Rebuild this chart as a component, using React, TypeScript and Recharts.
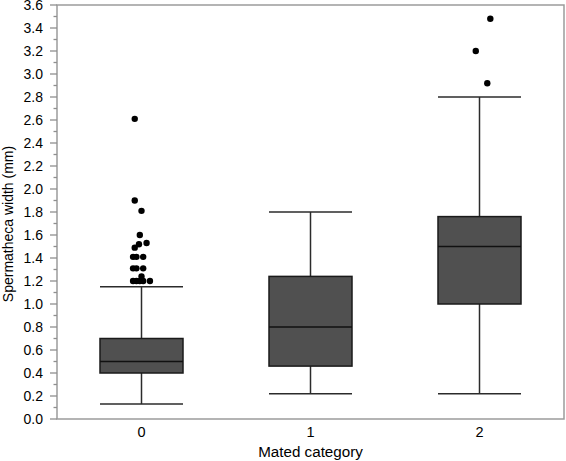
import { ComposedChart, Bar, Scatter, XAxis, YAxis, ReferenceArea } from "recharts";

const categories = ["0", "1", "2"];
const whiskerLow = [0.13, 0.22, 0.22];
const quartile1 = [0.4, 0.46, 1.0];
const medians = [0.5, 0.8, 1.5];
const quartile3 = [0.7, 1.24, 1.76];
const whiskerHigh = [1.15, 1.8, 2.8];

// outliers: position on the category scale (with its jitter) and value
const outlierPos = [
  -0.04, -0.04, 0.0, -0.01, -0.04, -0.015, 0.03, -0.05, -0.03, 0.01, -0.05, -0.03, 0.01,
  -0.05, -0.03, -0.01, 0.01, 0.0, 0.05, 2.064, 1.978, 2.046,
];
const outlierVal = [
  2.61, 1.9, 1.81, 1.6, 1.49, 1.52, 1.53, 1.41, 1.41, 1.41, 1.31, 1.31, 1.31,
  1.2, 1.2, 1.2, 1.2, 1.24, 1.2, 3.48, 3.2, 2.92,
];

const yTicks = [
  0.0, 0.1, 0.2, 0.3, 0.4, 0.5, 0.6, 0.7, 0.8, 0.9, 1.0, 1.1, 1.2, 1.3, 1.4, 1.5, 1.6, 1.7, 1.8,
  1.9, 2.0, 2.1, 2.2, 2.3, 2.4, 2.5, 2.6, 2.7, 2.8, 2.9, 3.0, 3.1, 3.2, 3.3, 3.4, 3.5, 3.6,
];

const boxes = categories.map((cat, i) => ({
  cat,
  low: whiskerLow[i],
  q1: quartile1[i],
  med: medians[i],
  q3: quartile3[i],
  high: whiskerHigh[i],
}));

const outliers = outlierPos.map((x, i) => ({ x, y: outlierVal[i] }));

const FONT = "'Liberation Sans', Arial, Helvetica, sans-serif";
const TICK_SIZE = 7;
const TICK_MARGIN = 7;

function BoxShape(props: any) {
  const { x, y, width, height, payload } = props;
  const top = Math.min(y, y + height);
  const bot = Math.max(y, y + height);
  const { low, q1, med, q3, high } = payload;
  const py = (v: number) => bot - ((v - low) / (high - low)) * (bot - top);
  const cx = x + width / 2;
  const line = { stroke: "#2b2b2b", strokeWidth: 1.5 };
  return (
    <g>
      <line x1={cx} x2={cx} y1={py(high)} y2={py(q3)} {...line} />
      <line x1={cx} x2={cx} y1={py(q1)} y2={py(low)} {...line} />
      <line x1={x} x2={x + width} y1={py(high)} y2={py(high)} {...line} />
      <line x1={x} x2={x + width} y1={py(low)} y2={py(low)} {...line} />
      <rect x={x} y={py(q3)} width={width} height={py(q1) - py(q3)} fill="#505050" stroke="#1a1a1a" strokeWidth={1.5} />
      <line x1={x} x2={x + width} y1={py(med)} y2={py(med)} stroke="#111" strokeWidth={1.5} />
    </g>
  );
}

function YTick(props: any) {
  const { x, y, payload } = props;
  const v = Number(payload.value);
  const major = Math.round(v * 10) % 2 === 0;
  return (
    <g>
      <line
        x1={x + TICK_MARGIN + (major ? 0 : 3.5)}
        x2={x + TICK_MARGIN + TICK_SIZE}
        y1={y}
        y2={y}
        stroke="#8f8f8f"
        strokeWidth={1.3}
      />
      {major && (
        <text x={x} y={y} dy={5} textAnchor="end" fontSize={14} fill="#000" fontFamily={FONT}>
          {v.toFixed(1)}
        </text>
      )}
    </g>
  );
}

function YLabel(props: any) {
  const vb = props.viewBox || { x: 0, y: 5, width: 57, height: 414 };
  const cx = vb.x + 8;
  const cy = vb.y + vb.height / 2 + 12;
  return (
    <text
      x={cx}
      y={cy}
      transform={`rotate(-90 ${cx} ${cy})`}
      textAnchor="middle"
      dominantBaseline="central"
      fontSize={14}
      fill="#000"
      fontFamily={FONT}
    >
      Spermatheca width (mm)
    </text>
  );
}

export default function App() {
  return (
    <div style={{ position: "absolute", left: 0, top: 0 }}>
      <ComposedChart
        width={566}
        height={461}
        data={boxes}
        margin={{ top: 5, right: 2, bottom: 0, left: 0 }}
        style={{ fontFamily: FONT }}
      >
        <XAxis
          dataKey="cat"
          height={42}
          tickLine={false}
          axisLine={false}
          tick={{ fill: "#000", fontSize: 14.5, fontFamily: FONT }}
          label={{ value: "Mated category", position: "insideBottom", offset: 4, fill: "#000", fontSize: 15.2, fontFamily: FONT }}
        />
        <XAxis xAxisId="num" dataKey="x" type="number" domain={[-0.5, 2.5]} hide />
        <YAxis
          type="number"
          domain={[0, 3.6]}
          ticks={yTicks}
          interval={0}
          width={57}
          tickSize={TICK_SIZE}
          tickMargin={TICK_MARGIN}
          tickLine={false}
          axisLine={false}
          tick={<YTick />}
          label={{ content: <YLabel /> }}
        />
        <ReferenceArea
          xAxisId="num"
          x1={-0.5}
          x2={2.5}
          y1={0}
          y2={3.6}
          fill="none"
          stroke="#9c9c9c"
          strokeWidth={1.5}
        />
        <Bar
          dataKey={(d: any) => [d.low, d.high]}
          barSize={83}
          shape={<BoxShape />}
          isAnimationActive={false}
        />
        <Scatter
          data={outliers}
          xAxisId="num"
          dataKey="y"
          isAnimationActive={false}
          shape={(p: any) => <circle cx={p.cx} cy={p.cy} r={3.2} fill="#000" />}
        />
      </ComposedChart>
    </div>
  );
}
